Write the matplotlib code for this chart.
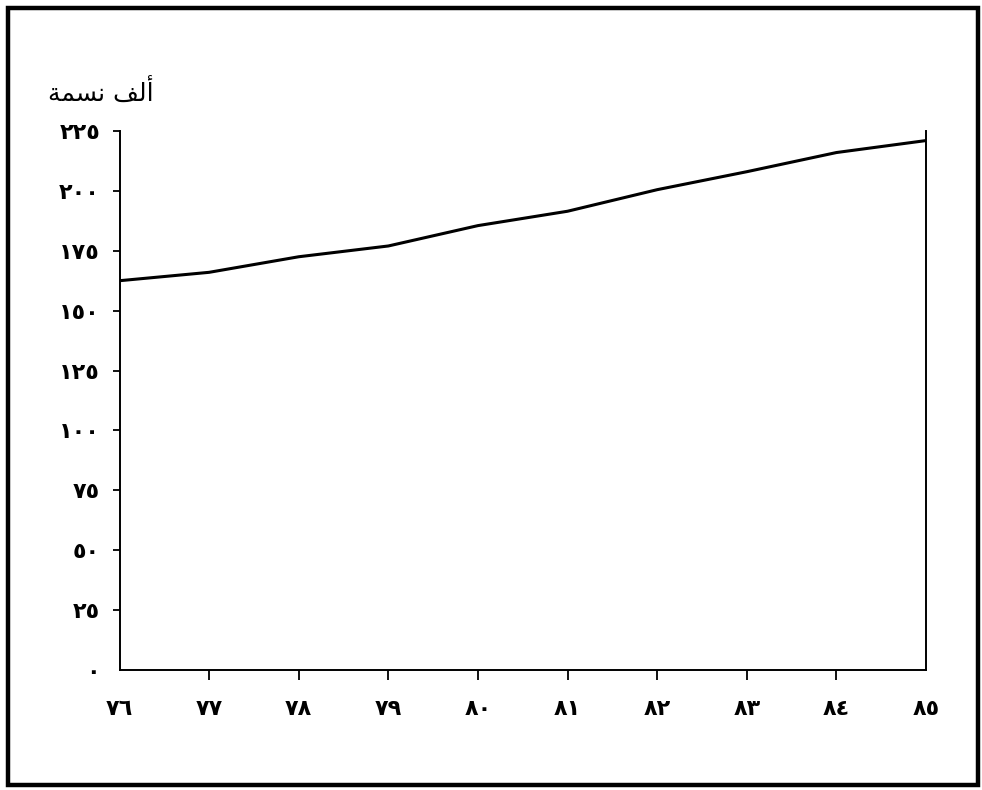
import matplotlib
matplotlib.use("Agg")
import matplotlib.pyplot as plt
from matplotlib.patches import Rectangle

# --- datos ---
years = [76, 77, 78, 79, 80, 81, 82, 83, 84, 85]
population = [162.5, 166, 172.5, 177, 185.5, 191.5, 200.5, 208, 216, 221]
year_labels = ["٧٦", "٧٧", "٧٨", "٧٩", "٨٠", "٨١", "٨٢", "٨٣", "٨٤", "٨٥"]
y_ticks = [0, 25, 50, 75, 100, 125, 150, 175, 200, 225]
y_labels = ["٠", "٢٥", "٥٠", "٧٥", "١٠٠", "١٢٥", "١٥٠", "١٧٥", "٢٠٠", "٢٢٥"]
# "ألف نسمة" en formas de presentación, orden visual
unit_label = "\ufe94\ufee4\ufeb4\ufee7 \ufed2\ufedf\ufe83"

plt.rcParams['font.family'] = ['DejaVu Sans']

fig = plt.figure(figsize=(9.82, 7.9), dpi=100)
ax = fig.add_axes([0.1217, 0.1519, 0.8213, 0.6823])

ax.plot(years, population, color='black', linewidth=2.2, solid_capstyle='butt')

ax.set_xlim(76, 85)
ax.set_ylim(0, 225)

ax.set_xticks(years)
ax.set_xticklabels(year_labels, fontsize=16, fontweight='bold')
ax.set_yticks(y_ticks)
ax.set_yticklabels(y_labels, fontsize=16, fontweight='bold')

ax.tick_params(axis='x', direction='out', length=7, width=1.3, pad=14)
ax.tick_params(axis='y', direction='out', length=5, width=1.3, pad=9)

# sin marcas en las esquinas
xt = ax.xaxis.get_major_ticks()
xt[0].tick1line.set_visible(False)
xt[-1].tick1line.set_visible(False)
ax.yaxis.get_major_ticks()[0].tick1line.set_visible(False)

ax.spines['top'].set_visible(False)
for s in ['left', 'bottom', 'right']:
    ax.spines[s].set_linewidth(1.4)

fig.text(48 / 982, 1 - 92 / 790, unit_label, fontsize=18, ha='left', va='center')

# marco exterior
fig.patches.append(Rectangle((0.0083, 0.0057), 0.9877, 0.9848, transform=fig.transFigure,
                             fill=False, edgecolor='black', linewidth=3.2))

fig.savefig("out.png", dpi=100)
